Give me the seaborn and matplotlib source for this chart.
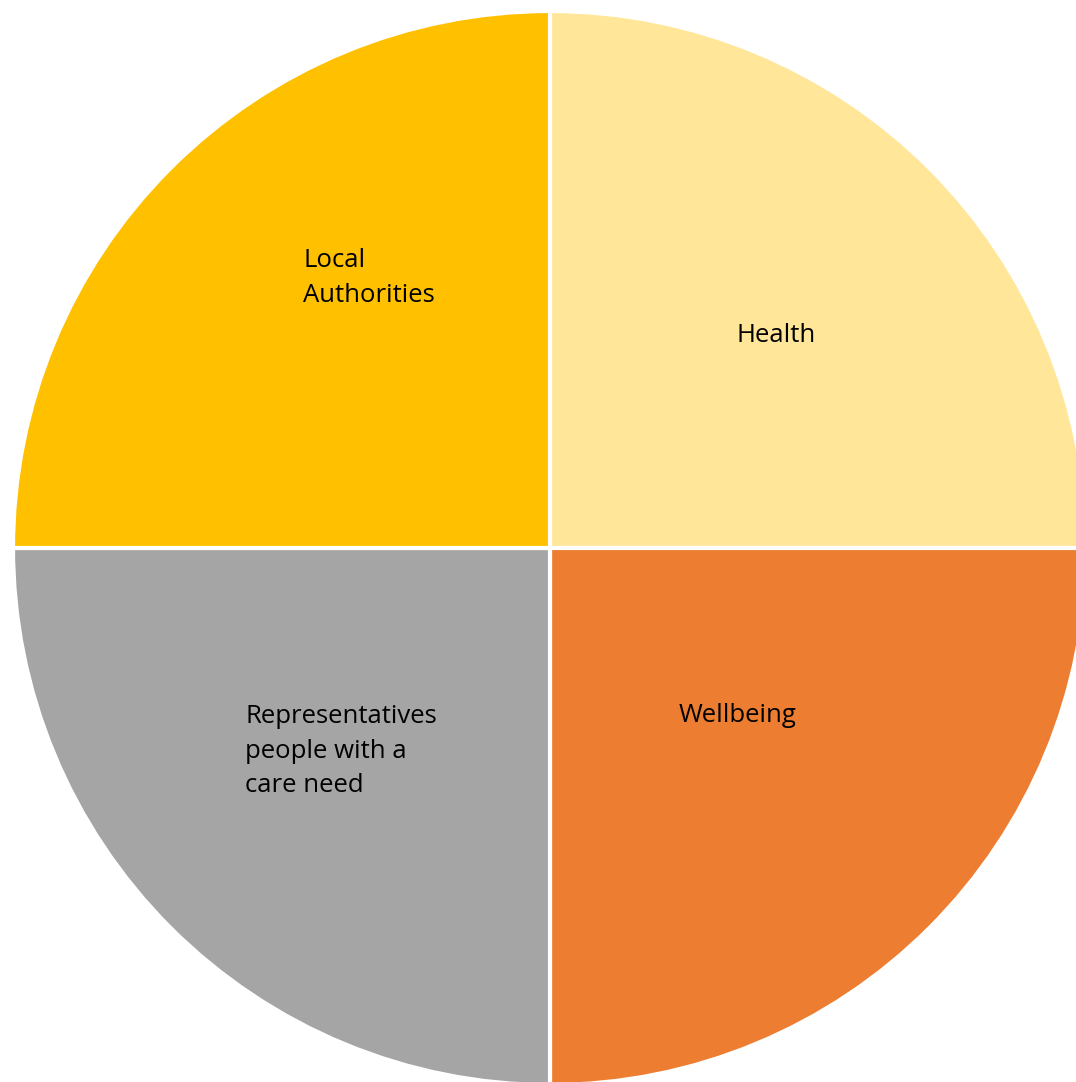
"""Four equal quadrants pie chart (stakeholder groups)."""

import matplotlib

matplotlib.use("Agg")
import matplotlib.pyplot as plt
import seaborn as sns

sns.set_theme(style="white")
plt.rcParams["font.family"] = ["Open Sans", "DejaVu Sans"]

# Data
labels = ["Health", "Wellbeing", "Representatives\npeople with a\ncare need", "Local\nAuthorities"]
shares = [25, 25, 25, 25]
colors = ["#FFE699", "#ED7D31", "#A5A5A5", "#FFC000"]

W, H = 1076, 1082
fig = plt.figure(figsize=(W / 100, H / 100), dpi=100)
ax = fig.add_axes([0, 0, 1, 1])

# circle centre (550, 548) px, radius 537 px
cx, cy, r = 550, 548, 537
ax.pie(
    shares,
    colors=colors,
    startangle=90,
    counterclock=False,
    radius=1.0,
    wedgeprops=dict(edgecolor="white", linewidth=3),
)
ax.set_aspect("auto")
ax.set_xlim((0 - cx) / r, (W - cx) / r)
ax.set_ylim((cy - H) / r, cy / r)
ax.axis("off")

# label anchors in pixels (left/centre x, top y)
label_pos = [
    (776, 335, "center", "center"),
    (679, 716, "left", "center"),
    (245, 704, "left", "top"),
    (303, 248, "left", "top"),
]
for text, (px, py, ha, va) in zip(labels, label_pos):
    fig.text(px / W, 1 - py / H, text, ha=ha, va=va, fontsize=18.5,
             linespacing=1.5, color="black")

fig.savefig("out.png", dpi=100)
